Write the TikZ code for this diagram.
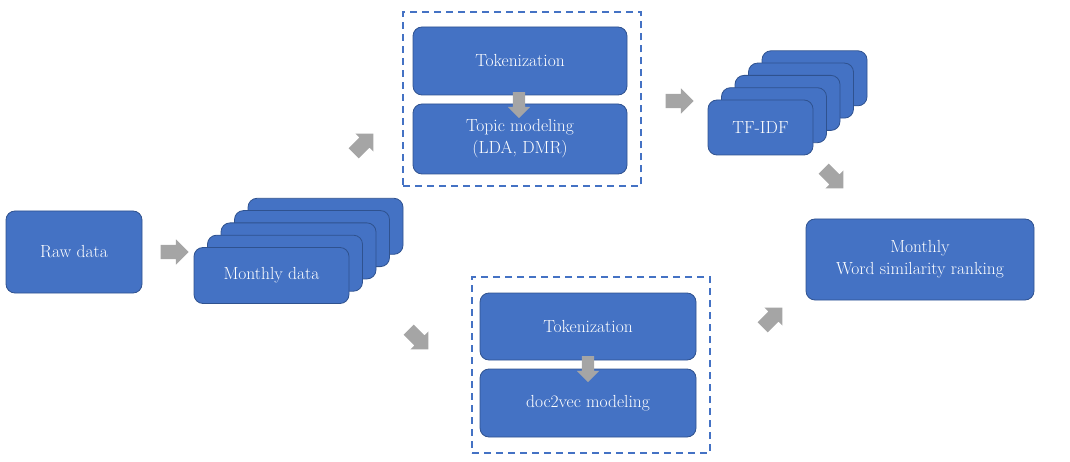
\documentclass[tikz,border=0pt]{standalone}
\usepackage{tikz}
\usetikzlibrary{calc,shapes.arrows}
\usepackage{xcolor}
\definecolor{boxblue}{HTML}{4472C4}
\definecolor{boxline}{HTML}{2F528F}
\definecolor{arrgray}{HTML}{A5A5A5}

\begin{document}
\begin{tikzpicture}[x=1pt,y=-1pt,
	box/.style={draw=boxline, line width=0.8pt, fill=boxblue, rounded corners=9pt, text=white, align=center, inner sep=0pt, font=\fontsize{17.5}{22}\selectfont},
	grp/.style={draw=boxblue, line width=2pt, dash pattern=on 7pt off 5pt},
	blk/.style={single arrow, fill=arrgray, inner xsep=0pt, inner ysep=7pt, minimum height=28pt, minimum width=25pt, single arrow head extend=5.5pt},
	blksmall/.style={blk, inner ysep=6pt, minimum height=26pt, minimum width=22pt, single arrow head extend=5pt}]
			\useasboundingbox (0,0) rectangle (1070,462);
			\def\dx{13.5};
			\def\dy{-12.3};
			% left part
			\node[box, minimum width=136pt, minimum height=82pt] (raw) at (74,252) {Raw data};
			\foreach \i in {4,3,2,1}
				\node[box, minimum width=155pt, minimum height=56pt] (month\i) at ($(271.5,275.5)+\i*(\dx,\dy)$) {};
			\node[box, minimum width=155pt, minimum height=56pt] (month0) at (271.5,275.5) {Monthly data};
			% upper branch
			\node[grp, minimum width=238pt, minimum height=174pt] (grpup) at (522,99.5) {};
			\node[box, minimum width=214pt, minimum height=68pt] (tokup) at (520,61) {Tokenization};
			\node[box, minimum width=214pt, minimum height=70pt] (topic) at (520,139) {Topic modeling\\(LDA, DMR)};
			\foreach \i in {4,3,2,1}
				\node[box, minimum width=105pt, minimum height=55pt] (tfidf\i) at ($(760.5,127.5)+\i*(\dx,\dy)$) {};
			\node[box, minimum width=105pt, minimum height=55pt] (tfidf0) at (760.5,127.5) {TF-IDF};
			% lower branch
			\node[grp, minimum width=238pt, minimum height=176pt] (grplow) at (591,365) {};
			\node[box, minimum width=216pt, minimum height=67pt] (toklow) at (588,326.5) {Tokenization};
			\node[box, minimum width=216pt, minimum height=68pt] (doc) at (588,403) {doc2vec modeling};
			\node[box, minimum width=228pt, minimum height=81pt] (rank) at (920,259.5) {Monthly\\Word similarity ranking};
			% block arrows
			\node[blk] (a1) at (171,252) {};
			\node[blk, rotate=45] (a2) at (361,146) {};
			\node[blk, rotate=-45] (a3) at (416,337) {};
			\node[blk] (a4) at (676,101) {};
			\node[blk, rotate=-45] (a5) at (831,176) {};
			\node[blk, rotate=45] (a6) at (770,320) {};
			\node[blksmall, rotate=-90] (a7) at (519,102) {};
			\node[blksmall, rotate=-90] (a8) at (588,366) {};
			\end{tikzpicture}
\end{document}
